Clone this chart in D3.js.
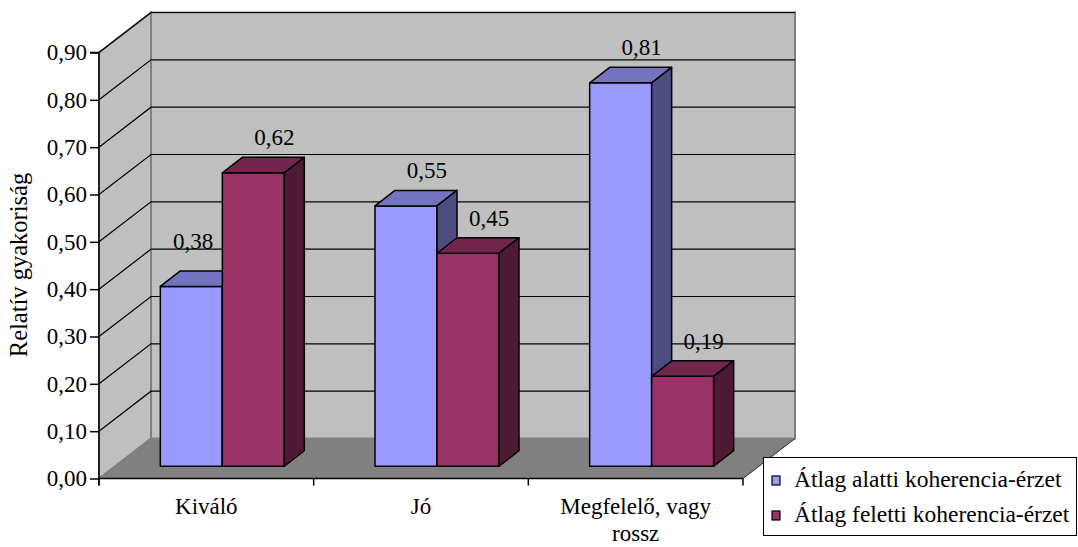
<!DOCTYPE html>
<html>
<head>
<meta charset="utf-8">
<script src="https://cdn.jsdelivr.net/npm/d3@7"></script>
<style>
  html, body { margin: 0; padding: 0; background: #fff; }
  svg { display: block; }
  text { font-family: "Liberation Serif", "Times New Roman", serif; fill: #000; }
</style>
</head>
<body>
<svg id="chart" width="1078" height="547"></svg>
<script>
// Data
const categories = ["Kiváló", "Jó", "Megfelelő, vagy rossz"];
const categoryLines = [["Kiváló"], ["Jó"], ["Megfelelő, vagy", "rossz"]];
const seriesNames = ["Átlag alatti koherencia-érzet", "Átlag feletti koherencia-érzet"];
const seriesBelow = [0.38, 0.55, 0.81];
const seriesAbove = [0.62, 0.45, 0.19];
const yTicks = [0, 0.1, 0.2, 0.3, 0.4, 0.5, 0.6, 0.7, 0.8, 0.9];
const yTitle = "Relatív gyakoriság";

const seriesValues = [seriesBelow, seriesAbove];
const fmt = v => d3.format(".2f")(v).replace(".", ",");

// Layout
const svg = d3.select("#chart");
const plotL = 99, plotR = 743, plotB = 478.5, plotT = 52.5;
const depth = { dx: 52, dy: -40 };       // floor / wall depth
const barDepth = { dx: 20, dy: -15.5 };   // bar depth
const barOff = { dx: (depth.dx - barDepth.dx) / 2, dy: (depth.dy - barDepth.dy) / 2 };

const y = d3.scaleLinear().domain([0, 0.9]).range([plotB, plotT]);
const x0 = d3.scaleBand().domain(categories).range([plotL, plotR]).padding(0);
const x1 = d3.scaleBand().domain(seriesNames).range([0, x0.bandwidth()])
  .paddingInner(0).paddingOuter(0.731);

const colors = [
  { front: "#9999FF", top: "#7373BF", side: "#4D4D80" },
  { front: "#993366", top: "#73264D", side: "#4D1A33" }
];

const poly = pts => "M" + pts.map(p => p.join(",")).join("L") + "Z";
const y0 = y(0), y9 = y(0.9);

// Side wall
svg.append("path")
  .attr("d", poly([[plotL, y0], [plotL, y9], [plotL + depth.dx, y9 + depth.dy], [plotL + depth.dx, y0 + depth.dy]]))
  .attr("fill", "#C0C0C0").attr("stroke", "#808080").attr("stroke-width", 2);
// Back wall
svg.append("path")
  .attr("d", poly([[plotL + depth.dx, y9 + depth.dy], [plotR + depth.dx, y9 + depth.dy], [plotR + depth.dx, y0 + depth.dy], [plotL + depth.dx, y0 + depth.dy]]))
  .attr("fill", "#C0C0C0").attr("stroke", "#808080").attr("stroke-width", 2);
// Floor
svg.append("path")
  .attr("d", poly([[plotL, y0], [plotR, y0], [plotR + depth.dx, y0 + depth.dy], [plotL + depth.dx, y0 + depth.dy]]))
  .attr("fill", "#808080").attr("stroke", "#808080").attr("stroke-width", 1);

// Gridlines
const grid = svg.append("g").attr("stroke", "#000").attr("stroke-width", 1.2).attr("fill", "none");
yTicks.filter(t => t > 0).forEach(t => {
  const yy = y(t);
  grid.append("path").attr("d", `M${plotL},${yy}L${plotL + depth.dx},${yy + depth.dy}L${plotR + depth.dx},${yy + depth.dy}`);
});

// Category axis line and ticks
svg.append("line").attr("x1", plotL).attr("x2", plotR).attr("y1", y0).attr("y2", y0)
  .attr("stroke", "#000").attr("stroke-width", 1.5);
const catTicks = categories.map(c => x0(c)).concat([plotR]);
catTicks.forEach(cx => {
  svg.append("line").attr("x1", cx).attr("x2", cx).attr("y1", y0).attr("y2", y0 + 7)
    .attr("stroke", "#000").attr("stroke-width", 1.5);
});
svg.append("line").attr("x1", plotR).attr("x2", plotR + depth.dx).attr("y1", y0).attr("y2", y0 + depth.dy)
  .attr("stroke", "#333").attr("stroke-width", 1);

// Value axis
const yAxis = d3.axisLeft(y).tickValues(yTicks).tickSize(9).tickPadding(3).tickFormat(fmt);
const gy = svg.append("g").attr("transform", `translate(${plotL},0)`).call(yAxis);
gy.select(".domain").attr("stroke", "#000").attr("stroke-width", 1.5)
  .attr("d", `M-9,${y9}H0V${y0 + 7}`);
gy.selectAll(".tick line").attr("stroke", "#000").attr("stroke-width", 1.5);
gy.selectAll(".tick text").attr("font-size", 23).attr("font-family", "Liberation Serif").attr("fill", "#000");

// Category labels
categories.forEach((c, i) => {
  const cx = x0(c) + x0.bandwidth() / 2;
  const t = svg.append("text").attr("text-anchor", "middle").attr("font-size", 23);
  categoryLines[i].forEach((ln, j) => {
    t.append("tspan").attr("x", cx).attr("y", 514 + j * 27).text(ln);
  });
});

// Y title
svg.append("text")
  .attr("transform", "translate(27,265) rotate(-90)")
  .attr("text-anchor", "middle").attr("font-size", 24.5)
  .text(yTitle);

// Bars
const bars = [];
categories.forEach((c, i) => {
  seriesNames.forEach((s, k) => {
    const v = seriesValues[k][i];
    const xl = x0(c) + x1(s) + barOff.dx;
    const xr = xl + x1.bandwidth();
    const yb = y(0) + barOff.dy;
    const yt = y(v) + barOff.dy;
    bars.push({ c, s, i, k, v, xl, xr, yb, yt });
  });
});

const gBars = svg.append("g").attr("stroke", "#000").attr("stroke-width", 1.5).attr("stroke-linejoin", "round");
bars.forEach(b => {
  const col = colors[b.k];
  const dx = barDepth.dx, dy = barDepth.dy;
  gBars.append("path").attr("fill", col.front)
    .attr("d", poly([[b.xl, b.yb], [b.xl, b.yt], [b.xr, b.yt], [b.xr, b.yb]]));
  gBars.append("path").attr("fill", col.top)
    .attr("d", poly([[b.xl, b.yt], [b.xl + dx, b.yt + dy], [b.xr + dx, b.yt + dy], [b.xr, b.yt]]));
  gBars.append("path").attr("fill", col.side)
    .attr("d", poly([[b.xr, b.yb], [b.xr, b.yt], [b.xr + dx, b.yt + dy], [b.xr + dx, b.yb + dy]]));
});

// Value labels, nudged left when they would run into a taller neighbour
bars.forEach(b => {
  let lx = b.xl + x1.bandwidth() / 2 + 21;
  let ly = b.yt + barDepth.dy - 12;
  const t = svg.append("text").attr("text-anchor", "middle").attr("font-size", 23)
    .attr("x", lx).attr("y", ly).text(fmt(b.v));
  const w = t.node().getComputedTextLength();
  const next = bars.find(o => o.i === b.i && o.k === b.k + 1);
  if (next && next.yt < ly && lx + w / 2 > next.xl - 9) {
    lx = next.xl - 9 - w / 2;
    ly -= 10;
    t.attr("x", lx).attr("y", ly);
  }
});

// Legend
const lg = svg.append("g");
lg.append("rect").attr("x", 763.5).attr("y", 457.5).attr("width", 313).attr("height", 78)
  .attr("fill", "#fff").attr("stroke", "#000").attr("stroke-width", 1);
seriesNames.forEach((s, k) => {
  const ly = 487 + k * 35;
  lg.append("rect").attr("x", 772).attr("y", ly - 11).attr("width", 8).attr("height", 9)
    .attr("fill", colors[k].front).attr("stroke", "#000").attr("stroke-width", 1.2);
  lg.append("text").attr("x", 794).attr("y", ly).attr("font-size", 23.5).text(s);
});
</script>
</body>
</html>
